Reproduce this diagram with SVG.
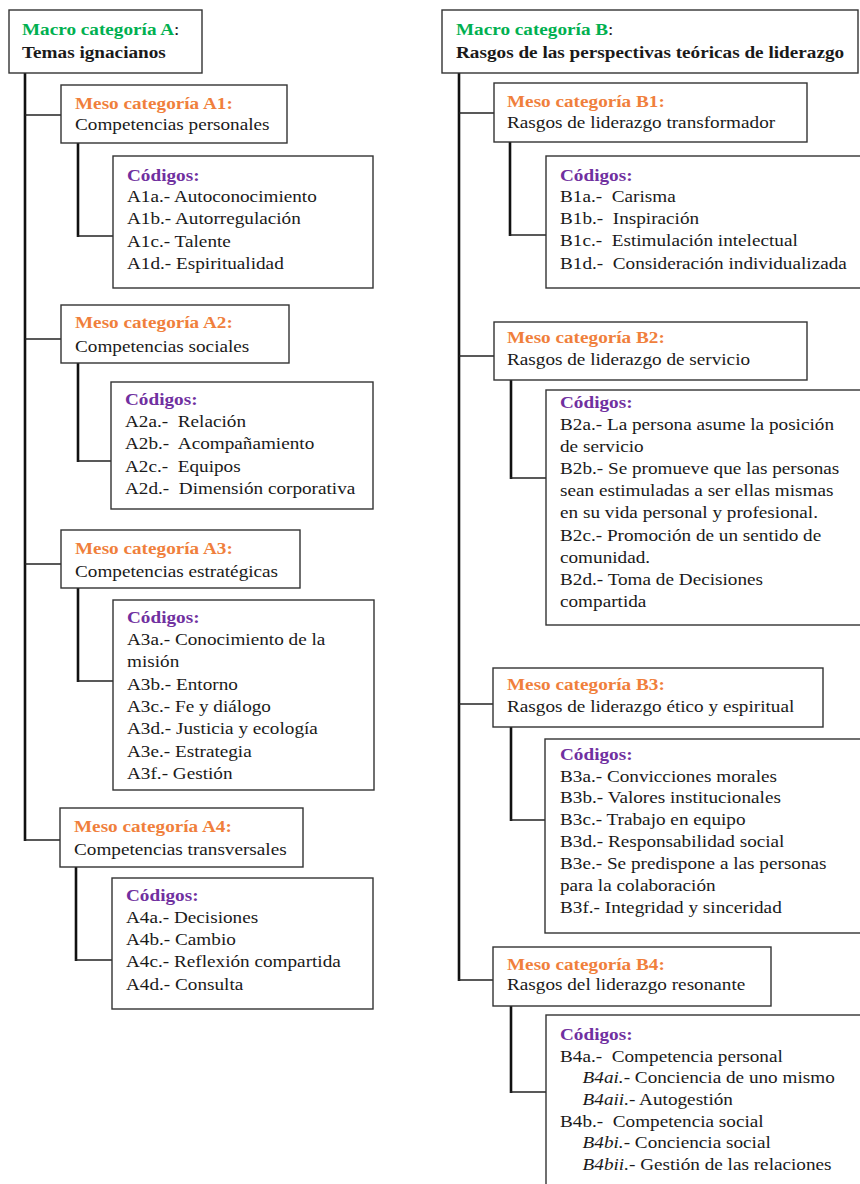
<svg xmlns="http://www.w3.org/2000/svg" width="860" height="1184" viewBox="0 0 860 1184" xml:space="preserve">
<style>
text{font-family:"Liberation Serif","Times New Roman",serif;font-size:17px;fill:#1a1a1a;white-space:pre}
.b{font-weight:bold}
.g{fill:#00B050;font-weight:bold}
.o{fill:#F07F3C;font-weight:bold}
.p{fill:#7030A0;font-weight:bold}
.i{font-style:italic}
.box{fill:#fff;stroke:#333;stroke-width:1.4}
.trunk{stroke:#111;stroke-width:2.6;fill:none}
.br{stroke:#222;stroke-width:1.4;fill:none}
.cv{stroke:#111;stroke-width:2.6;fill:none}
.ch{stroke:#222;stroke-width:1.6;fill:none}
</style>
<rect width="860" height="1184" fill="#fff"/>
<g id="connectors">
<line class="trunk" x1="25" y1="73" x2="25" y2="841"/>
<line class="br" x1="25" y1="115" x2="61" y2="115"/>
<line class="br" x1="25" y1="339" x2="61" y2="339"/>
<line class="br" x1="25" y1="564" x2="61" y2="564"/>
<line class="br" x1="24" y1="840" x2="60" y2="840"/>
<line class="cv" x1="78" y1="143" x2="78" y2="237"/><line class="ch" x1="77" y1="236" x2="113" y2="236"/>
<line class="cv" x1="78" y1="363" x2="78" y2="462"/><line class="ch" x1="77" y1="461" x2="111" y2="461"/>
<line class="cv" x1="78" y1="588" x2="78" y2="682"/><line class="ch" x1="77" y1="681" x2="113" y2="681"/>
<line class="cv" x1="76" y1="867" x2="76" y2="961"/><line class="ch" x1="75" y1="960" x2="112" y2="960"/>
<line class="trunk" x1="459" y1="73" x2="459" y2="981"/>
<line class="br" x1="459" y1="113" x2="494" y2="113"/>
<line class="br" x1="459" y1="356" x2="494" y2="356"/>
<line class="br" x1="459" y1="704" x2="493" y2="704"/>
<line class="br" x1="458" y1="980" x2="493" y2="980"/>
<line class="cv" x1="510" y1="142" x2="510" y2="236"/><line class="ch" x1="509" y1="235" x2="546" y2="235"/>
<line class="cv" x1="511" y1="380" x2="511" y2="479"/><line class="ch" x1="510" y1="478" x2="546" y2="478"/>
<line class="cv" x1="511" y1="727" x2="511" y2="821"/><line class="ch" x1="510" y1="820" x2="545" y2="820"/>
<line class="cv" x1="511" y1="1006" x2="511" y2="1093"/><line class="ch" x1="510" y1="1092" x2="546" y2="1092"/>
</g>
<g id="macroA">
<rect class="box" x="9" y="10" width="193" height="63"/>
<text transform="translate(22 0) scale(1.13 1)"><tspan x="0" y="35" class="g">Macro categoría A</tspan><tspan>:</tspan><tspan x="0" y="58" class="b">Temas ignacianos</tspan></text>
</g>
<g id="A1">
<rect class="box" x="61" y="85" width="226" height="58"/>
<text transform="translate(75 0) scale(1.13 1)"><tspan x="0" y="109" class="o">Meso categoría A1:</tspan><tspan x="0" y="130">Competencias personales</tspan></text>
</g>
<g id="A1codes">
<rect class="box" x="113" y="156" width="260" height="132"/>
<text transform="translate(127 0) scale(1.13 1)"><tspan x="0" y="181" class="p">Códigos:</tspan><tspan x="0" y="202">A1a.- Autoconocimiento</tspan><tspan x="0" y="224">A1b.- Autorregulación</tspan><tspan x="0" y="247">A1c.- Talente</tspan><tspan x="0" y="269">A1d.- Espiritualidad</tspan></text>
</g>
<g id="A2">
<rect class="box" x="61" y="305" width="228" height="58"/>
<text transform="translate(75 0) scale(1.13 1)"><tspan x="0" y="328" class="o">Meso categoría A2:</tspan><tspan x="0" y="352">Competencias sociales</tspan></text>
</g>
<g id="A2codes">
<rect class="box" x="111" y="382" width="262" height="127"/>
<text transform="translate(125 0) scale(1.13 1)"><tspan x="0" y="405" class="p">Códigos:</tspan><tspan x="0" y="427">A2a.-  Relación</tspan><tspan x="0" y="449">A2b.-  Acompañamiento</tspan><tspan x="0" y="472">A2c.-  Equipos</tspan><tspan x="0" y="494">A2d.-  Dimensión corporativa</tspan></text>
</g>
<g id="A3">
<rect class="box" x="61" y="530" width="239" height="58"/>
<text transform="translate(75 0) scale(1.13 1)"><tspan x="0" y="554" class="o">Meso categoría A3:</tspan><tspan x="0" y="577">Competencias estratégicas</tspan></text>
</g>
<g id="A3codes">
<rect class="box" x="113" y="600" width="261" height="190"/>
<text transform="translate(127 0) scale(1.13 1)"><tspan x="0" y="623" class="p">Códigos:</tspan><tspan x="0" y="645">A3a.- Conocimiento de la</tspan><tspan x="0" y="667">misión</tspan><tspan x="0" y="690">A3b.- Entorno</tspan><tspan x="0" y="712">A3c.- Fe y diálogo</tspan><tspan x="0" y="734">A3d.- Justicia y ecología</tspan><tspan x="0" y="757">A3e.- Estrategia</tspan><tspan x="0" y="779">A3f.- Gestión</tspan></text>
</g>
<g id="A4">
<rect class="box" x="60" y="808" width="243" height="59"/>
<text transform="translate(74 0) scale(1.13 1)"><tspan x="0" y="832" class="o">Meso categoría A4:</tspan><tspan x="0" y="855">Competencias transversales</tspan></text>
</g>
<g id="A4codes">
<rect class="box" x="112" y="878" width="261" height="131"/>
<text transform="translate(126 0) scale(1.13 1)"><tspan x="0" y="901" class="p">Códigos:</tspan><tspan x="0" y="923">A4a.- Decisiones</tspan><tspan x="0" y="945">A4b.- Cambio</tspan><tspan x="0" y="967">A4c.- Reflexión compartida</tspan><tspan x="0" y="990">A4d.- Consulta</tspan></text>
</g>
<g id="macroB">
<rect class="box" x="442" y="10" width="416" height="63"/>
<text transform="translate(456 0) scale(1.13 1)"><tspan x="0" y="35" class="g">Macro categoría B</tspan><tspan>:</tspan><tspan x="0" y="58" class="b">Rasgos de las perspectivas teóricas de liderazgo</tspan></text>
</g>
<g id="B1">
<rect class="box" x="494" y="83" width="313" height="59"/>
<text transform="translate(507 0) scale(1.13 1)"><tspan x="0" y="107" class="o">Meso categoría B1:</tspan><tspan x="0" y="128">Rasgos de liderazgo transformador</tspan></text>
</g>
<g id="B1codes">
<rect class="box" x="546" y="156" width="320" height="132"/>
<text transform="translate(560 0) scale(1.13 1)"><tspan x="0" y="181" class="p">Códigos:</tspan><tspan x="0" y="202">B1a.-  Carisma</tspan><tspan x="0" y="224">B1b.-  Inspiración</tspan><tspan x="0" y="246">B1c.-  Estimulación intelectual</tspan><tspan x="0" y="269">B1d.-  Consideración individualizada</tspan></text>
</g>
<g id="B2">
<rect class="box" x="494" y="322" width="313" height="58"/>
<text transform="translate(507 0) scale(1.13 1)"><tspan x="0" y="343" class="o">Meso categoría B2:</tspan><tspan x="0" y="365">Rasgos de liderazgo de servicio</tspan></text>
</g>
<g id="B2codes">
<rect class="box" x="546" y="390" width="320" height="235"/>
<text transform="translate(560 0) scale(1.13 1)"><tspan x="0" y="408" class="p">Códigos:</tspan><tspan x="0" y="430">B2a.- La persona asume la posición</tspan><tspan x="0" y="452">de servicio</tspan><tspan x="0" y="474">B2b.- Se promueve que las personas</tspan><tspan x="0" y="496">sean estimuladas a ser ellas mismas</tspan><tspan x="0" y="518">en su vida personal y profesional.</tspan><tspan x="0" y="541">B2c.- Promoción de un sentido de</tspan><tspan x="0" y="563">comunidad.</tspan><tspan x="0" y="585">B2d.- Toma de Decisiones</tspan><tspan x="0" y="607">compartida</tspan></text>
</g>
<g id="B3">
<rect class="box" x="493" y="668" width="330" height="59"/>
<text transform="translate(507 0) scale(1.13 1)"><tspan x="0" y="690" class="o">Meso categoría B3:</tspan><tspan x="0" y="712">Rasgos de liderazgo ético y espiritual</tspan></text>
</g>
<g id="B3codes">
<rect class="box" x="545" y="739" width="321" height="194"/>
<text transform="translate(560 0) scale(1.13 1)"><tspan x="0" y="760" class="p">Códigos:</tspan><tspan x="0" y="782">B3a.- Convicciones morales</tspan><tspan x="0" y="803">B3b.- Valores institucionales</tspan><tspan x="0" y="825">B3c.- Trabajo en equipo</tspan><tspan x="0" y="847">B3d.- Responsabilidad social</tspan><tspan x="0" y="869">B3e.- Se predispone a las personas</tspan><tspan x="0" y="891">para la colaboración</tspan><tspan x="0" y="913">B3f.- Integridad y sinceridad</tspan></text>
</g>
<g id="B4">
<rect class="box" x="493" y="947" width="278" height="59"/>
<text transform="translate(507 0) scale(1.13 1)"><tspan x="0" y="970" class="o">Meso categoría B4:</tspan><tspan x="0" y="990">Rasgos del liderazgo resonante</tspan></text>
</g>
<g id="B4codes">
<rect class="box" x="546" y="1015" width="320" height="180"/>
<text transform="translate(560 0) scale(1.13 1)"><tspan x="0" y="1040" class="p">Códigos:</tspan><tspan x="0" y="1062">B4a.-  Competencia personal</tspan><tspan x="20" y="1083" class="i">B4ai.</tspan><tspan>- Conciencia de uno mismo</tspan><tspan x="20" y="1105" class="i">B4aii.</tspan><tspan>- Autogestión</tspan><tspan x="0" y="1127">B4b.-  Competencia social</tspan><tspan x="20" y="1148" class="i">B4bi.</tspan><tspan>- Conciencia social</tspan><tspan x="20" y="1170" class="i">B4bii.</tspan><tspan>- Gestión de las relaciones</tspan></text>
</g>
</svg>
